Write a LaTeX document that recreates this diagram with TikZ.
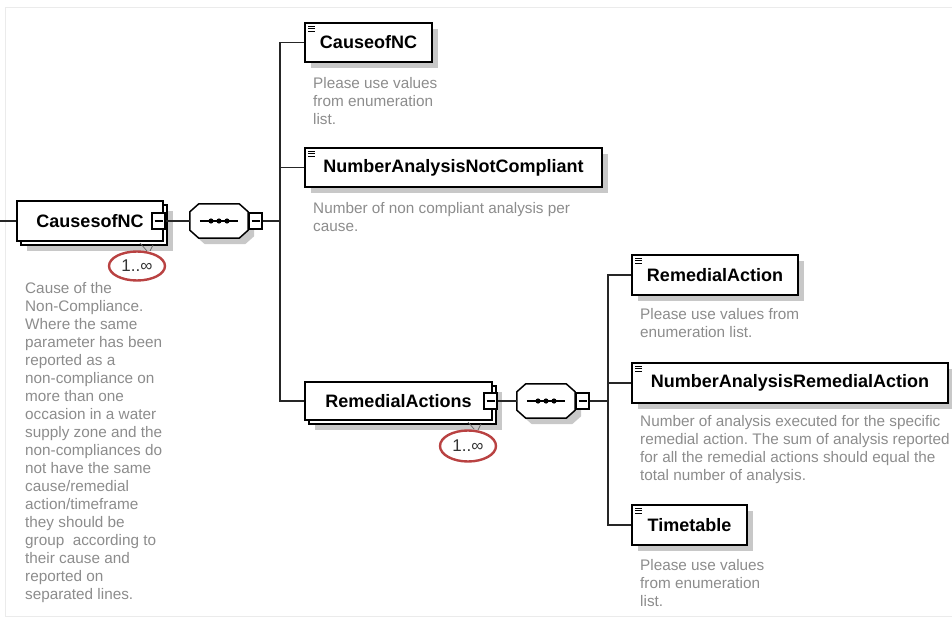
\documentclass[tikz,border=0pt]{standalone}
\usepackage{fontspec}
\setmainfont{Liberation Sans}
\usepackage{tikz}
\usetikzlibrary{shapes,shadows,positioning}
\frenchspacing
\definecolor{grisTexto}{RGB}{140,140,140}
\definecolor{grisSombra}{RGB}{200,200,200}
\definecolor{rojo}{RGB}{185,66,66}
\definecolor{marco}{RGB}{235,235,235}
\tikzstyle{edge}  =[line width=1.4pt, black!85]
\tikzstyle{box}   =[rectangle, draw, fill=white, line width=1.5pt,
                    inner sep=0pt, minimum height=40pt,
                    font=\bfseries\fontsize{18}{20}\selectfont]
\tikzstyle{elem}  =[box, general shadow={fill=grisSombra,
                    shadow xshift=6pt, shadow yshift=-6pt},
                    path picture={\foreach \d in {3pt,5.5pt,8pt}
                      \draw[line width=0.8pt] ([xshift=3pt,yshift=-\d]path picture bounding box.north west) -- ++(7pt,0pt);}]
\tikzstyle{multi} =[box, general shadow={fill=grisSombra,
                    shadow xshift=10pt, shadow yshift=-10pt},
                    general shadow={draw=black, fill=white, line width=1.5pt,
                    shadow xshift=4pt, shadow yshift=-4pt}]
\tikzstyle{seq}   =[rectangle, minimum width=58pt, minimum height=34pt,
                    inner sep=0pt]
\tikzstyle{octa}  =[draw, fill=white, line width=1.5pt,
                    general shadow={fill=grisSombra,
                    shadow xshift=6pt, shadow yshift=-6pt}]
\tikzstyle{minus} =[rectangle, draw, fill=white, line width=1.1pt,
                    minimum width=13pt, minimum height=16pt, inner sep=0pt,
                    path picture={\draw[line width=1.1pt] ([xshift=2.5pt]path picture bounding box.west) -- ([xshift=-2.5pt]path picture bounding box.east);}]
\tikzstyle{desc}  =[anchor=north west, align=left, inner sep=0pt,
                    text=grisTexto, font=\fontsize{15.3}{18}\selectfont]
\tikzstyle{mult}  =[ellipse, draw=rojo, line width=2.4pt, minimum width=56pt,
                    minimum height=29pt, inner sep=0pt, text=black!80,
                    font=\fontsize{17}{18}\selectfont]
\begin{document}
\begin{tikzpicture}[x=1pt,y=-1pt]
    \useasboundingbox (0,0) rectangle (952,617);
    \draw[marco, line width=1pt] (5,8) rectangle (960,616);

    % elements
    \draw (90,221) node (causesNC) [multi, minimum width=146pt] {CausesofNC};
    \draw (368.5,42.5) node (causeofNC) [elem, minimum width=127pt, minimum height=39pt] {CauseofNC};
    \draw (453.5,167.5) node (numNotCompl) [elem, minimum width=297pt, minimum height=39pt] {NumberAnalysisNotCompliant};
    \draw (398.5,401) node (remActions) [multi, minimum width=187pt, minimum height=38pt] {RemedialActions};
    \draw (715,275) node (remAction) [elem, minimum width=166pt] {RemedialAction};
    \draw (790,383) node (numRemAction) [elem, minimum width=316pt] {NumberAnalysisRemedialAction};
    \draw (689.5,525) node (timetable) [elem, minimum width=115pt] {Timetable};

    % sequences
    \draw (219,221) node (seqA) [seq] {};
    \draw (546,401) node (seqB) [seq] {};
    \foreach \s in {seqA,seqB} {
        \draw[octa] ([xshift=9pt]\s.north west) -- ([xshift=-9pt]\s.north east)
            -- ([yshift=-8pt]\s.north east) -- ([yshift=8pt]\s.south east)
            -- ([xshift=-9pt]\s.south east) -- ([xshift=9pt]\s.south west)
            -- ([yshift=8pt]\s.south west) -- ([yshift=-8pt]\s.north west) -- cycle;
        \draw[line width=1.2pt] ([xshift=10pt]\s.west) -- ([xshift=-10pt]\s.east);
        \foreach \d in {-8pt,0pt,8pt}
            \fill[black] ([xshift=\d]\s.center) circle (2.6pt);
    }
    \draw (158.5,221) node (minA) [minus] {};
    \draw (255.5,221) node (seqMinA) [minus] {};
    \draw (490.5,401) node (minB) [minus] {};
    \draw (582.5,401) node (seqMinB) [minus] {};

    \coordinate (inA) at (0,221);
    \coordinate (forkA) at (280,221);
    \coordinate (forkB) at (608,401);

    \draw[edge] (inA) -- (causesNC.west);
    \draw[edge] (minA.east) -- (seqA.west);
    \draw[edge] (seqMinA.east) -- (forkA);
    \foreach \n in {causeofNC,numNotCompl,remActions}
        \draw[edge] (forkA) |- (\n.west);
    \draw[edge] (minB.east) -- (seqB.west);
    \draw[edge] (seqMinB.east) -- (forkB);
    \foreach \n in {remAction,numRemAction,timetable}
        \draw[edge] (forkB) |- (\n.west);

    % multiplicities
    \draw (137,266) node (multA) [mult] {1..∞};
    \draw (468,446) node (multB) [mult, minimum height=31pt] {1..∞};
    \draw[line width=0.7pt, black!60] (140,243) -- (147,251) (153,245) -- (150,251);
    \draw[line width=0.7pt, black!60] (468,422) -- (474,429) (481,424) -- (478,430);

    % annotations
    \draw (25,282) node (descCauses) [desc] {Cause of the\\Non-Compliance.\\Where the same\\parameter has been\\reported as a\\non-compliance on\\more than one\\occasion in a water\\supply zone and the\\non-compliances do\\not have the same\\cause/remedial\\action/timeframe\\they should be\\group\ \ according to\\their cause and\\reported on\\separated lines.};
    \draw (313,77) node (descCause) [desc] {Please use values\\from enumeration\\list.};
    \draw (313,202) node (descNotCompl) [desc] {Number of non compliant analysis per\\cause.};
    \draw (640,308) node (descRemAction) [desc] {Please use values from\\enumeration list.};
    \draw (640,415) node (descNumRem) [desc] {Number of analysis executed for the specific\\remedial action. The sum of analysis reported\\for all the remedial actions should equal the\\total number of analysis.};
    \draw (640,559) node (descTimetable) [desc] {Please use values\\from enumeration\\list.};

\end{tikzpicture}
\end{document}
